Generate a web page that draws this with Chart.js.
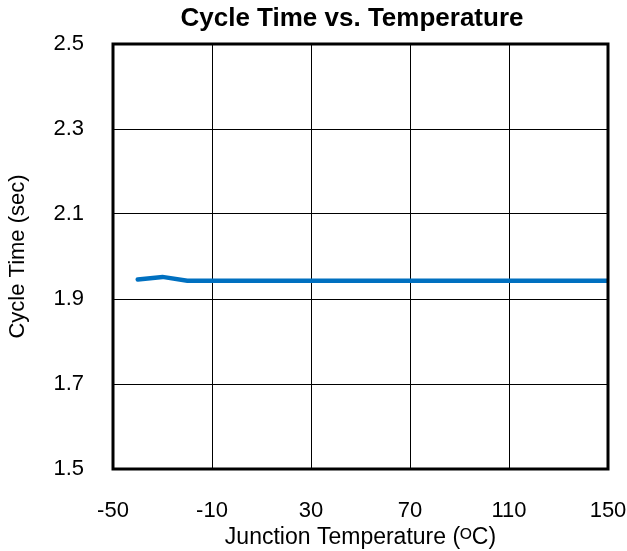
<!DOCTYPE html>
<html>
<head>
<meta charset="utf-8">
<script src="https://cdn.jsdelivr.net/npm/chart.js"></script>
<style>
  html, body { margin: 0; padding: 0; background: #ffffff; }
  #wrap { width: 627px; height: 551px; }
</style>
</head>
<body>
<div id="wrap"><canvas id="cycleChart" width="627" height="551"></canvas></div>
<script>
// Junction temperature (C) and measured cycle time (sec)
const temps = [-40, -30, -20, 0, 25, 50, 75, 100, 125, 150];
const cycleTimes = [1.946, 1.952, 1.943, 1.943, 1.943, 1.943, 1.943, 1.943, 1.943, 1.943];

const xTicks = [-50, -10, 30, 70, 110, 150];
const yTicks = [1.5, 1.7, 1.9, 2.1, 2.3, 2.5];

const chartTitle = "Cycle Time vs. Temperature";
const FONT = "'Liberation Sans', Arial, sans-serif";

// frame round the plot area (the library only draws one edge per axis)
// plus the title, which sits a little right of the canvas centre
const plotFrame = {
  id: "plotFrame",
  afterDatasetsDraw(chart) {
    const { ctx, chartArea } = chart;
    ctx.save();
    ctx.strokeStyle = "#000000";
    ctx.lineWidth = 3;
    ctx.strokeRect(chartArea.left, chartArea.top,
      chartArea.right - chartArea.left, chartArea.bottom - chartArea.top);

    ctx.fillStyle = "#000000";
    ctx.font = "bold 26px " + FONT;
    ctx.textAlign = "center";
    ctx.textBaseline = "middle";
    ctx.fillText(chartTitle, 352, 19);
    ctx.restore();
  },
};

new Chart(document.getElementById("cycleChart"), {
  type: "line",
  data: {
    datasets: [{
      data: temps.map((t, i) => ({ x: t, y: cycleTimes[i] })),
      borderColor: "#0070C0",
      borderWidth: 4.5,
      borderCapStyle: "round",
      pointRadius: 0,
      tension: 0,
      fill: false,
    }],
  },
  options: {
    responsive: false,
    animation: false,
    layout: { padding: { top: 44, right: 0, bottom: 0, left: 0 } },
    plugins: {
      legend: { display: false },
      tooltip: { enabled: false },
      title: { display: false },
    },
    scales: {
      x: {
        type: "linear",
        min: xTicks[0],
        max: xTicks[xTicks.length - 1],
        afterBuildTicks(scale) {
          scale.ticks = xTicks.map(v => ({ value: v }));
        },
        afterFit(scale) {
          scale.height = 82;
          scale.paddingLeft = 0;
          scale.paddingRight = 19;
        },
        grid: { color: "#000000", lineWidth: 1, drawTicks: false },
        border: { display: false },
        ticks: {
          color: "#000000",
          padding: 29,
          maxRotation: 0,
          font: { family: FONT, size: 22 },
          callback: v => String(v),
        },
        title: {
          display: true,
          text: "Junction Temperature (ᴼC)",
          color: "#000000",
          font: { family: FONT, size: 23 },
          padding: { top: 0, bottom: 0 },
        },
      },
      y: {
        min: yTicks[0],
        max: yTicks[yTicks.length - 1],
        afterBuildTicks(scale) {
          scale.ticks = yTicks.map(v => ({ value: v }));
        },
        afterFit(scale) {
          scale.width = 113;
          scale.paddingTop = 0;
          scale.paddingBottom = 0;
        },
        grid: { color: "#000000", lineWidth: 1, drawTicks: false },
        border: { display: false },
        ticks: {
          color: "#000000",
          padding: 29,
          font: { family: FONT, size: 22 },
          callback: v => Number(v).toFixed(1),
        },
        title: {
          display: true,
          text: "Cycle Time (sec)",
          color: "#000000",
          font: { family: FONT, size: 22 },
          padding: { top: 5, bottom: 0 },
        },
      },
    },
  },
  plugins: [plotFrame],
});
</script>
</body>
</html>
